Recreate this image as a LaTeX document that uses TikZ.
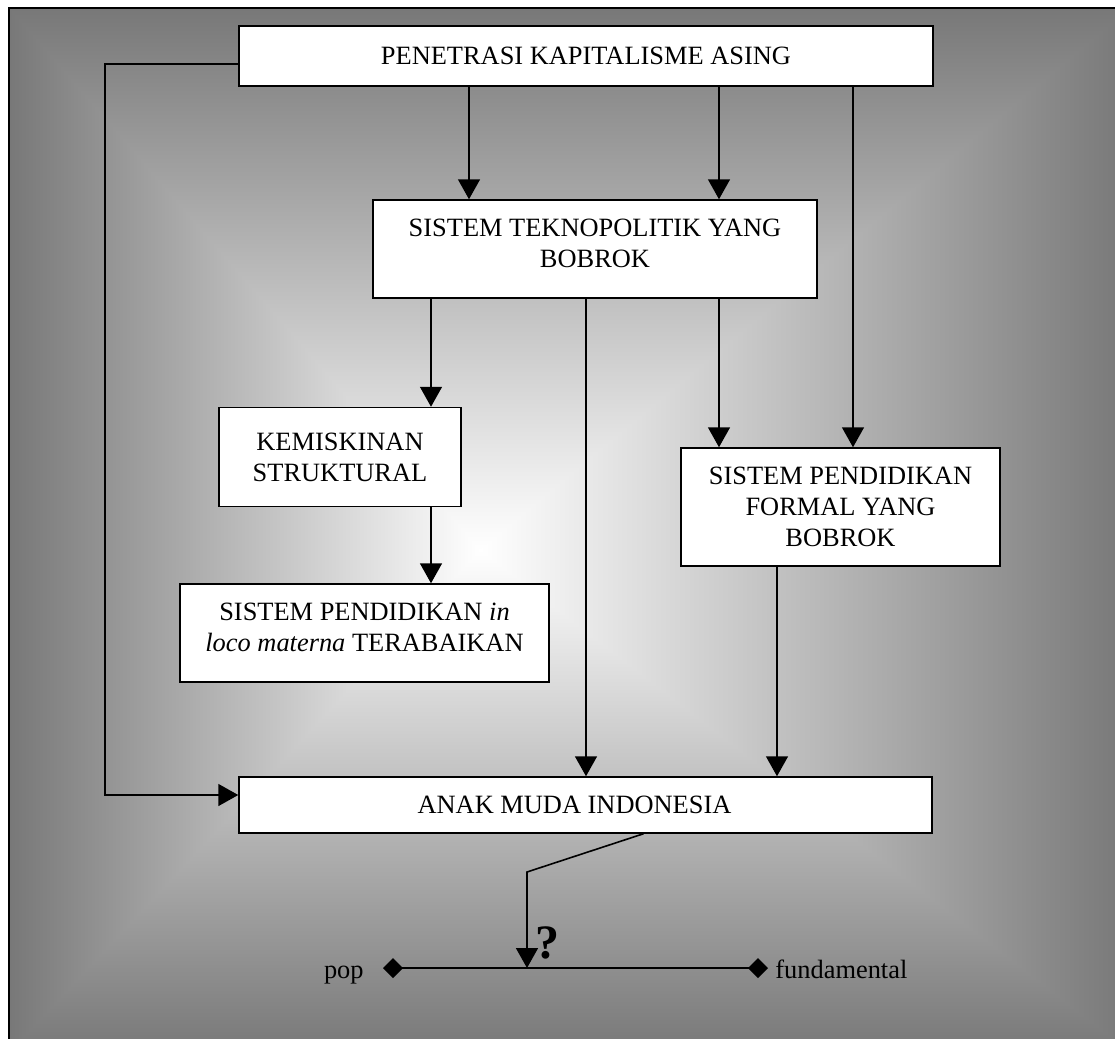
\documentclass[tikz,border=0pt]{standalone}
\usepackage{fontspec}
\setmainfont{Liberation Serif}
\usepackage{xcolor}
\usepackage{tikz}
\usetikzlibrary{arrows.meta, positioning}

\definecolor{edgegray}{gray}{0.47}

\tikzset{
  box/.style={draw, line width=0.75pt, fill=white, inner sep=0pt, align=center,
    font=\fontsize{13.2}{15.5}\selectfont},
  flow/.style={line width=0.8pt, -{Triangle[width=11pt, length=10pt]}},
  pole/.style={inner xsep=3.5pt, inner ysep=0pt, text height=10pt, text depth=0pt,
    font=\fontsize{13.2}{15.5}\selectfont},
  ends/.style={line width=0.8pt, {Diamond[width=10pt, length=10pt]}-{Diamond[width=10pt, length=10pt]}}
}

\begin{document}
\begin{tikzpicture}[x=0.5pt, y=-0.5pt]
        \useasboundingbox (0,0) rectangle (1115,1039);

        % sfondo sfumato dal centro
        \coordinate (tl) at (9,8);
        \coordinate (tr) at (1130,8);
        \coordinate (br) at (1130,1052);
        \coordinate (bl) at (9,1052);
        \coordinate (ctr) at (480,550);
        \shade[top color=edgegray, bottom color=white] (tl) rectangle (tr |- ctr);
        \shade[bottom color=edgegray, top color=white] (bl |- ctr) rectangle (br);
        \begin{scope}
            \clip (ctr) -- (tl) -- (bl) -- cycle;
            \shade[left color=edgegray, right color=white] (tl) rectangle (ctr |- bl);
        \end{scope}
        \begin{scope}
            \clip (ctr) -- (tr) -- (br) -- cycle;
            \shade[right color=edgegray, left color=white] (ctr |- tr) rectangle (br);
        \end{scope}
        \draw[line width=1.2pt] (tl) rectangle (br);

        \node[box, minimum width=347pt, minimum height=30pt] (pen) at (586,56) {PENETRASI KAPITALISME ASING};
        \node[box, minimum width=222pt, minimum height=49pt] (tek) at (595,249) {SISTEM TEKNOPOLITIK YANG\\BOBROK\\[-9.5pt]\mbox{}};
        \node[box, minimum width=121pt, minimum height=49.5pt] (kem) at (340,457) {KEMISKINAN\\STRUKTURAL};
        \node[box, minimum width=184.5pt, minimum height=49pt] (loco) at (364.5,633) {SISTEM PENDIDIKAN \textit{in}\\\textit{loco materna} TERABAIKAN\\[-9.5pt]\mbox{}};
        \node[box, minimum width=159.5pt, minimum height=59pt] (form) at (840.5,507) {SISTEM PENDIDIKAN\\FORMAL YANG\\BOBROK};
        \node[box, minimum width=346.5pt, minimum height=28pt] (anak) at (585.5,805) {ANAK MUDA INDONESIA\hspace*{11pt}};

        \node[pole, anchor=east, inner xsep=9.5pt] (pop) at (383,968) {pop};
        \node[pole, anchor=west] (fund) at (768,968) {fundamental};
        \node[font=\bfseries\fontsize{24}{24}\selectfont, inner sep=0pt] (ask) at (547,943) {?};

        % colonne dei collegamenti
        \coordinate (xa) at (469,0);
        \coordinate (xb) at (719,0);
        \coordinate (xc) at (853,0);
        \coordinate (xd) at (431,0);
        \coordinate (xe) at (586,0);
        \coordinate (xf) at (777,0);
        \coordinate (lt) at (105,64);
        \coordinate (lb) at (105,795);
        \coordinate (knee) at (527,872);

        \draw[flow] (pen.south -| xa) -- (tek.north -| xa);
        \draw[flow] (pen.south -| xb) -- (tek.north -| xb);
        \draw[flow] (pen.south -| xc) -- (form.north -| xc);
        \draw[flow] (tek.south -| xd) -- (kem.north -| xd);
        \draw[flow] (tek.south -| xe) -- (anak.north -| xe);
        \draw[flow] (tek.south -| xb) -- (form.north -| xb);
        \draw[flow] (kem.south -| xd) -- (loco.north -| xd);
        \draw[flow] (form.south -| xf) -- (anak.north -| xf);
        \draw[flow] (pen.west |- lt) -- (lt) -- (lb) -- (anak.west |- lb);

        % pilihan finale
        \draw[ends] (pop.east) -- (fund.west);
        \draw[flow] ([xshift=29pt]anak.south) -- (knee) -- (knee |- pop.east);
\end{tikzpicture}
\end{document}
